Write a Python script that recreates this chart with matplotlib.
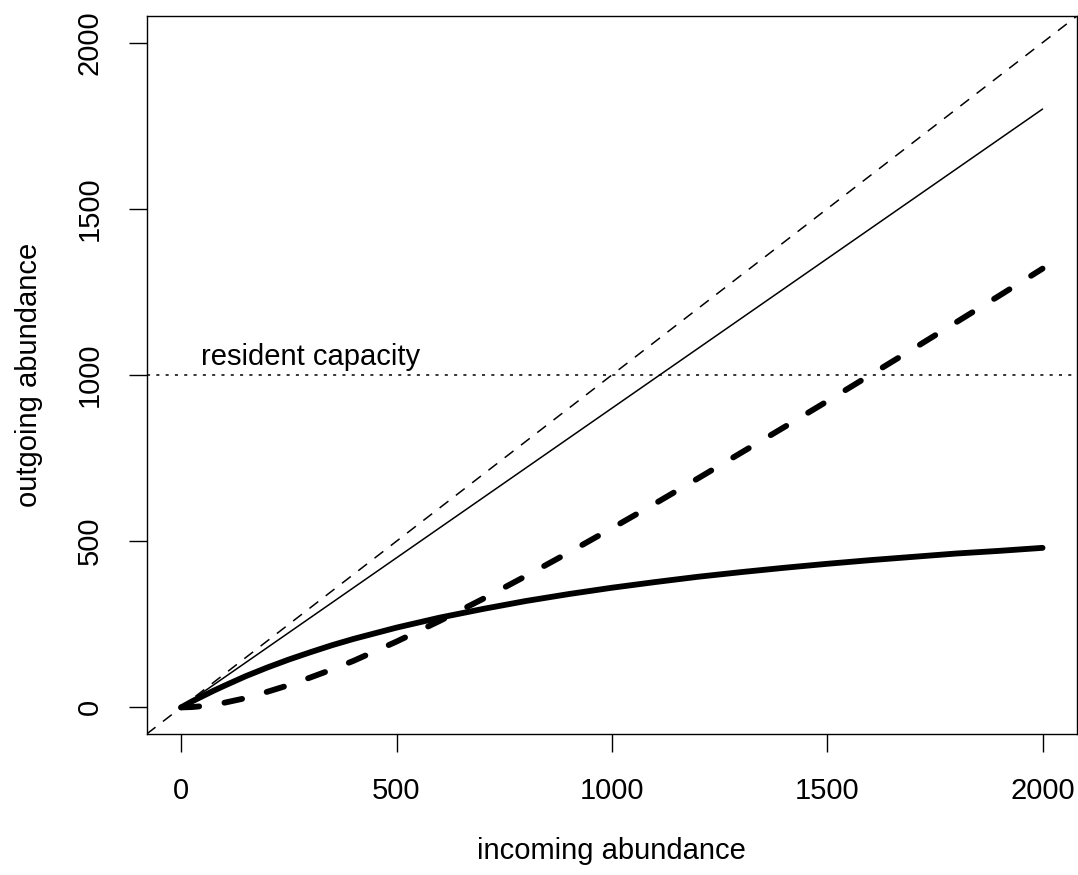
import matplotlib
matplotlib.use('Agg')
import matplotlib.pyplot as plt

plt.rcParams['font.family'] = ['Liberation Sans', 'DejaVu Sans']
plt.rcParams['lines.scale_dashes'] = False

# ---- data ----
incoming = [0, 25, 50, 75, 100, 150, 200, 250, 300, 350, 400, 500, 600, 700, 800,
            900, 1000, 1100, 1200, 1300, 1400, 1500, 1600, 1700, 1800, 1900, 2000]
outgoing_thick_solid = [0, 18, 34, 50, 65, 94, 120, 144, 166, 187, 206, 240, 270,
                        296, 320, 341, 360, 377, 393, 407, 420, 432, 443, 453,
                        463, 471, 480]
outgoing_thick_dashed = [0, 1, 4, 8, 14, 28, 47, 67, 90, 114, 140, 198, 260,
                         326, 395, 466, 539, 613, 689, 766, 843, 921, 1000,
                         1079, 1159, 1239, 1320]
thin_x = [0, 2000]
thin_y = [0, 1800]
capacity = 1000
capacity_label = "resident capacity"
capacity_label_x = 300
x_ticks = [0, 500, 1000, 1500, 2000]
y_ticks = [0, 500, 1000, 1500, 2000]
xlabel = "incoming abundance"
ylabel = "outgoing abundance"

W, H = 1078, 875
fig = plt.figure(figsize=(W / 100, H / 100), dpi=100)
left, right, top, bottom = 146.7, 1077.0, 16.0, 734.0
ax = fig.add_axes([left / W, 1 - bottom / H, (right - left) / W, (bottom - top) / H])

ax.set_xlim(-80, 2080)
ax.set_ylim(-80, 2080)

# 1:1 reference line
ax.axline((0, 0), slope=1, color='black', lw=1.1, dashes=(8.0, 6.8))
# capacity line
ax.axhline(capacity, color='black', lw=1.1, dashes=(2.2, 4.5))
ax.text(capacity_label_x, capacity + 30, capacity_label, ha='center', va='baseline',
        fontsize=21)

ax.plot(thin_x, thin_y, color='black', lw=1.1, solid_capstyle='round')
ax.plot(incoming, outgoing_thick_dashed, color='black', lw=4.2,
        dashes=(13.0, 18.4), dash_capstyle='round')
ax.plot(incoming, outgoing_thick_solid, color='black', lw=4.2,
        solid_capstyle='round', solid_joinstyle='round')

ax.set_xticks(x_ticks)
ax.set_yticks(y_ticks)
ax.set_xticklabels([str(v) for v in x_ticks], fontsize=21)
ax.set_yticklabels([str(v) for v in y_ticks], fontsize=21, rotation=90, va='center')
ax.tick_params(direction='out', length=13, width=1.0, pad=18, colors='black')
for s in ax.spines.values():
    s.set_linewidth(1.0)
    s.set_color('black')

fig.text(((left + right) / 2) / W, 1 - 851 / H, xlabel, ha='center', va='center', fontsize=21)
fig.text(29 / W, 1 - ((top + bottom) / 2) / H, ylabel, ha='center', va='center',
         rotation=90, fontsize=21)

fig.savefig('out.png', dpi=100)
